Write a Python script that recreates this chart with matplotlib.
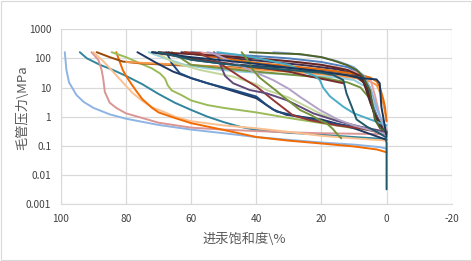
import matplotlib
matplotlib.use("Agg")
import matplotlib.pyplot as plt
from matplotlib.patches import Rectangle
from matplotlib.ticker import FixedLocator, FuncFormatter

plt.rcParams['font.family'] = ['Noto Sans CJK SC', 'DejaVu Sans']
plt.rcParams['axes.unicode_minus'] = False

# mercury saturation (%) / capillary pressure (MPa)
s_lblue = [98.8, 98.3, 97.5, 95.2, 93, 90, 85, 80, 70, 60, 50, 40, 30, 20, 10, 2, 0]
p_lblue = [163, 40, 15, 5.5, 3.2, 2.0, 1.2, 0.85, 0.52, 0.36, 0.27, 0.2, 0.16, 0.13, 0.11, 0.09, 0.08]
s_teal = [94.2, 92, 88, 84, 80, 75, 70, 65, 60, 55, 50, 45, 40, 30, 20, 10, 0]
p_teal = [163, 100, 60, 40, 25, 13, 6, 3, 1.7, 1.0, 0.65, 0.45, 0.35, 0.28, 0.24, 0.2, 0.17]
s_rose = [90.6, 88.5, 87.5, 87, 86.5, 85, 83, 80, 75, 70, 60, 50, 40, 30, 20, 10, 0]
p_rose = [163, 89, 40, 20, 7, 3, 2, 1.3, 0.9, 0.62, 0.42, 0.36, 0.32, 0.29, 0.27, 0.26, 0.25]
s_peach = [90, 87, 84, 81, 78, 75, 72, 68, 65, 60, 50, 40, 30, 20, 10, 0]
p_peach = [163, 80, 35, 15, 6.5, 3.5, 2.1, 1.4, 1.0, 0.7, 0.5, 0.4, 0.3, 0.22, 0.18, 0.15]
s_orange = [83, 82, 81, 80, 78.5, 77, 75, 72, 70, 65, 60, 50, 40, 30, 20, 10, 3, 0]
p_orange = [163, 80, 40, 25, 14, 8, 4, 2, 1.4, 0.9, 0.6, 0.35, 0.2, 0.15, 0.12, 0.095, 0.075, 0.06]
s_green = [84.4, 80, 76, 72, 69.5, 68, 67.2, 66, 63, 60, 55, 50, 40, 30, 20, 10, 0]
p_green = [163, 110, 70, 45, 30, 20, 12, 8, 5.5, 3.6, 2.5, 2.0, 1.4, 0.9, 0.6, 0.4, 0.3]
s_brown = [89, 85, 81, 76, 66, 57, 45, 35, 25, 15, 10, 7, 5, 3, 1, 0]
p_brown = [163, 110, 78, 68, 59, 55, 48, 42, 37, 30, 25, 15, 4, 1, 0.4, 0.25]
s_orange2 = [80, 75, 65, 55, 45, 35, 25, 15, 8, 5, 3, 1.5, 0.5, 0]
p_orange2 = [75, 70, 62, 55, 45, 38, 32, 25, 20, 16, 12, 5, 1.5, 0.7]
s_navy = [76.5, 70.6, 65.5, 60, 50, 40, 34.8, 30.7, 20, 10, 0]
p_navy = [163, 69, 35, 21, 9.5, 4.3, 1.75, 1.15, 0.8, 0.4, 0.16]
s_navy2 = [67.6, 66, 63.5, 60, 55, 47, 40, 36.8, 33.8, 26.6, 20, 10, 0]
p_navy2 = [163, 69, 31, 21, 14, 8.2, 4.9, 2.5, 1.5, 1.0, 0.67, 0.46, 0.27]
s_dteal = [70, 60, 50, 40, 30, 20, 16.4, 13.3, 12.3, 10.7, 9.2, 6, 3, 0.3, 0, 0]
p_dteal = [163, 90, 65, 50, 40, 32, 27, 18, 6.3, 2.2, 0.8, 0.45, 0.3, 0.2, 0.12, 0.0032]
s_navy3 = [72, 60, 50, 40, 30, 20, 12, 8.2, 3.1, 2.1, 1.6, 0.8, 0]
p_navy3 = [163, 110, 85, 65, 48, 35, 26, 21, 19, 14, 2.2, 0.7, 0.2]
s_olive = [42, 35, 26.6, 20, 16.4, 12, 9.2, 7.2, 5.1, 3.6, 2, 0]
p_olive = [163, 150, 140, 110, 85, 58, 40, 24, 8, 0.8, 0.4, 0.3]
s_olive2 = [44.5, 43, 41, 39, 36.8, 34, 31.7, 29, 26.6, 23, 20.5, 18.4, 16.5, 15.4, 13.9]
p_olive2 = [163, 100, 40, 22, 14, 8, 4.8, 2.8, 1.7, 1.1, 0.76, 0.59, 0.38, 0.27, 0.18]
s_skyblue = [34.8, 30, 25, 20, 15, 10, 7, 5, 3, 1, 0]
p_skyblue = [163, 150, 130, 110, 80, 50, 25, 10, 2, 0.5, 0.3]
s_maroon = [70, 60, 50, 40, 30, 20, 12, 8, 6, 4, 2, 0]
p_maroon = [163, 140, 120, 100, 80, 60, 40, 25, 8, 1.5, 0.6, 0.3]
s_maroon2 = [72, 60, 50, 40, 30, 23.6, 18, 13.3]
p_maroon2 = [163, 100, 70, 50, 35, 24, 18, 14]
s_red = [62, 57.3, 51.2, 45, 39.9, 34.8, 28.7, 23.6, 15, 8, 3, 0]
p_red = [163, 150, 68, 23.5, 10.7, 3.7, 1.1, 0.76, 0.5, 0.4, 0.3, 0.25]
s_purple = [53, 51.5, 51, 49.6, 47.1, 42, 36.8, 30.7, 26.6, 22.5, 15, 8, 3, 0]
p_purple = [163, 100, 60, 25, 14, 8.2, 6.3, 3.7, 2.2, 1.3, 0.7, 0.45, 0.35, 0.3]
s_lavender = [55, 53.2, 48, 42, 34.8, 30, 26.6, 20.5, 15, 10, 5, 0]
p_lavender = [163, 150, 80, 40, 18, 9, 4.8, 1.7, 0.8, 0.5, 0.35, 0.25]
s_aqua = [52, 45, 36.8, 30, 26.6, 22, 20.5, 19.5, 17.4, 13.3, 10, 5, 0]
p_aqua = [163, 130, 88, 60, 40, 25, 18, 10, 5, 2.2, 1.3, 0.8, 0.5]
s_laqua = [73, 68, 62, 55, 45, 35, 25, 15, 10, 6, 4, 2, 0]
p_laqua = [163, 100, 60, 45, 35, 30, 26, 22, 18, 10, 3, 1, 0.4]
s_lgreen = [71, 65, 57.3, 47.1, 40, 36.8, 30, 26.6, 20.5, 15, 10, 5, 0]
p_lgreen = [163, 70, 40, 23.5, 13, 8.2, 4.5, 2.9, 1.3, 0.75, 0.5, 0.35, 0.25]
s_green2 = [66, 60, 50, 40, 30, 20, 12, 8, 5, 3, 1, 0]
p_green2 = [163, 60, 45, 35, 28, 22, 15, 10, 4, 1, 0.45, 0.35]
s_steel = [60, 50, 40, 30, 20, 12, 8, 6, 4, 2, 0]
p_steel = [163, 140, 120, 100, 75, 50, 30, 12, 2, 0.6, 0.3]
s_pink = [58, 45, 35, 25, 15, 8, 5, 3.5, 2, 0]
p_pink = [163, 110, 90, 70, 50, 30, 20, 5, 1, 0.35]
s_dpurple = [63, 55, 45, 35, 25, 15, 10, 7, 5, 3, 1, 0]
p_dpurple = [163, 120, 95, 75, 58, 42, 30, 15, 3, 0.8, 0.35, 0.25]
s_slate = [67, 60, 50, 40, 30, 20, 12, 8, 6, 4, 2, 0]
p_slate = [163, 90, 65, 55, 47, 40, 32, 25, 10, 1.5, 0.5, 0.3]
s_rust = [62, 50, 40, 30, 20, 10, 5, 3, 2.1, 1, 0.5, 0]
p_rust = [163, 100, 70, 55, 42, 30, 22, 16, 10.7, 4, 2.2, 0.7]

curves = [
    (s_lblue, p_lblue, '#8EB4E3'), (s_teal, p_teal, '#31859C'),
    (s_rose, p_rose, '#D99694'), (s_peach, p_peach, '#FAC090'),
    (s_orange, p_orange, '#F26B00'), (s_green, p_green, '#9BBB59'),
    (s_brown, p_brown, '#984807'), (s_orange2, p_orange2, '#F79646'),
    (s_navy, p_navy, '#1F3864'), (s_navy2, p_navy2, '#1F497D'),
    (s_laqua, p_laqua, '#93CDDD'), (s_lgreen, p_lgreen, '#C3D69B'),
    (s_green2, p_green2, '#76923C'), (s_steel, p_steel, '#4F81BD'),
    (s_pink, p_pink, '#E6A0A0'), (s_dpurple, p_dpurple, '#3F3151'),
    (s_slate, p_slate, '#254061'), (s_rust, p_rust, '#E46C0A'),
    (s_maroon, p_maroon, '#632523'), (s_maroon2, p_maroon2, '#772C2A'),
    (s_red, p_red, '#953735'), (s_purple, p_purple, '#604A7B'),
    (s_lavender, p_lavender, '#B3A2C7'), (s_aqua, p_aqua, '#4BACC6'),
    (s_skyblue, p_skyblue, '#8DB3E2'), (s_olive, p_olive, '#4F6228'),
    (s_olive2, p_olive2, '#77933C'), (s_navy3, p_navy3, '#17375E'),
    (s_dteal, p_dteal, '#215968'),
]

x_ticks = [100, 80, 60, 40, 20, 0, -20]
y_ticks = [0.001, 0.01, 0.1, 1, 10, 100, 1000]

fig = plt.figure(figsize=(4.72, 2.61), dpi=100)
ax = fig.add_axes([0.129, 0.218, 0.828, 0.670])

for s, p, c in curves:
    ax.plot(s, p, color=c, lw=1.4, solid_joinstyle='round', solid_capstyle='round')

ax.set_yscale('log')
ax.set_xlim(100, -20)
ax.set_ylim(0.001, 1000)
ax.xaxis.set_major_locator(FixedLocator(x_ticks))
ax.yaxis.set_major_locator(FixedLocator(y_ticks))
ax.yaxis.set_minor_locator(FixedLocator([]))
ax.yaxis.set_major_formatter(FuncFormatter(lambda v, pos: '%g' % v))
ax.grid(True, color='#D9D9D9', lw=0.9)
ax.set_axisbelow(True)
for sp in ax.spines.values():
    sp.set_visible(False)
ax.spines['left'].set_visible(True)
ax.spines['bottom'].set_visible(True)
ax.spines['left'].set_color('#D9D9D9')
ax.spines['bottom'].set_color('#D9D9D9')
ax.tick_params(length=0, labelsize=7.3, colors='#404040', pad=7)

ax.set_xlabel('进汞饱和度\\%', fontsize=9.5, color='#595959')
ax.xaxis.set_label_coords(0.47, -0.165)
ax.set_ylabel('毛管压力\\MPa', fontsize=9.5, color='#595959')
ax.yaxis.set_label_coords(-0.082, 0.55)

fig.patches.append(Rectangle((0.003, 0.005), 0.994, 0.99, transform=fig.transFigure,
                             fill=False, edgecolor='#D9D9D9', lw=0.8))
fig.savefig('out.png', dpi=100)
